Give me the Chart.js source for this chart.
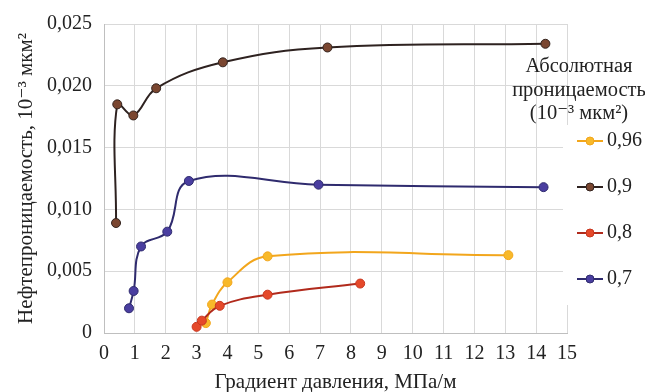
<!DOCTYPE html>
<html>
<head>
<meta charset="utf-8">
<script src="https://cdn.jsdelivr.net/npm/chart.js@4/dist/chart.umd.min.js"></script>
<style>
  html, body { margin: 0; padding: 0; background: #fff; }
  #wrap { width: 645px; height: 392px; position: relative; }
</style>
</head>
<body>
<div id="wrap"><canvas id="c" width="645" height="392"></canvas></div>
<script>
// ---- Data ----
const seriesLabels = ['0,96', '0,9', '0,8', '0,7'];

const gradient096 = [3.3, 3.5, 4.0, 5.3, 13.1];
const perm096     = [0.0008, 0.0023, 0.0041, 0.0062, 0.0063];

const gradient09  = [0.39, 0.43, 0.95, 1.69, 3.85, 7.24, 14.3];
const perm09      = [0.0089, 0.0185, 0.0176, 0.0198, 0.0219, 0.0231, 0.0234];

const gradient08  = [3.0, 3.17, 3.75, 5.3, 8.3];
const perm08      = [0.0005, 0.0010, 0.0022, 0.0031, 0.0040];

const gradient07  = [0.81, 0.96, 1.2, 2.05, 2.75, 6.95, 14.24];
const perm07      = [0.0020, 0.0034, 0.0070, 0.0082, 0.0123, 0.0120, 0.0118];

const xTickValues = [0,1,2,3,4,5,6,7,8,9,10,11,12,13,14,15];
const yTickValues = [0, 0.005, 0.010, 0.015, 0.020, 0.025];
const yTickLabels = ['0', '0,005', '0,010', '0,015', '0,020', '0,025'];

const xTitle = 'Градиент давления, МПа/м';
const yTitle = 'Нефтепроницаемость, 10⁻³ мкм²';
const legendTitle = ['Абсолютная', 'проницаемость', '(10⁻³ мкм²)'];

const styles = [
  { line: '#f2a61c', fill: '#f8b92a', border: '#f2a61c' },
  { line: '#2e2220', fill: '#7a4630', border: '#33231e' },
  { line: '#b12a1c', fill: '#e5492a', border: '#c8361f' },
  { line: '#2f2b6e', fill: '#4a3ea0', border: '#2f2b6e' }
];

function pts(xs, ys) { return xs.map((x, i) => ({ x: x, y: ys[i] })); }
const allX = [gradient096, gradient09, gradient08, gradient07];
const allY = [perm096, perm09, perm08, perm07];

const datasets = seriesLabels.map((lab, i) => ({
  label: lab,
  data: pts(allX[i], allY[i]),
  borderColor: styles[i].line,
  backgroundColor: styles[i].fill,
  pointBackgroundColor: styles[i].fill,
  pointBorderColor: styles[i].border,
  pointBorderWidth: 1,
  pointRadius: 4.5,
  borderWidth: 2,
  tension: 0.4,
  fill: false,
  order: i === 2 ? 0 : 1
}));

const SERIF = '"Liberation Serif", "DejaVu Serif", serif';

const legendPlugin = {
  id: 'customLegend',
  afterDraw(chart) {
    const ctx = chart.ctx;
    ctx.save();
    // white box behind legend items
    ctx.fillStyle = '#ffffff';
    ctx.fillRect(563, 125, 82, 180);
    // title
    ctx.fillStyle = '#222';
    ctx.font = '20.5px ' + SERIF;
    ctx.textAlign = 'center';
    ctx.textBaseline = 'middle';
    const ty = [67, 91, 114];
    legendTitle.forEach((t, i) => ctx.fillText(t, 579, ty[i]));
    // items
    const iy = [141, 187, 233, 279];
    seriesLabels.forEach((lab, i) => {
      const y = iy[i];
      ctx.strokeStyle = styles[i].line;
      ctx.lineWidth = 2;
      ctx.beginPath();
      ctx.moveTo(577, y);
      ctx.lineTo(603, y);
      ctx.stroke();
      ctx.beginPath();
      ctx.arc(590, y, 4, 0, Math.PI * 2);
      ctx.fillStyle = styles[i].fill;
      ctx.fill();
      ctx.lineWidth = 1;
      ctx.strokeStyle = styles[i].border;
      ctx.stroke();
      ctx.fillStyle = '#222';
      ctx.font = '20px ' + SERIF;
      ctx.textAlign = 'left';
      ctx.fillText(lab, 607, y);
    });
    ctx.restore();
  }
};

new Chart(document.getElementById('c'), {
  type: 'line',
  data: { datasets: datasets },
  options: {
    responsive: false,
    animation: false,
    events: [],
    layout: { padding: { left: 0, right: 78, top: 17, bottom: 0 } },
    plugins: { legend: { display: false }, tooltip: { enabled: false } },
    scales: {
      x: {
        type: 'linear',
        min: 0, max: 15,
        afterBuildTicks(scale) { scale.ticks = xTickValues.map(v => ({ value: v })); },
        afterFit(scale) { scale.height = 59; },
        grid: { color: '#d9d9d9', drawTicks: false, lineWidth: 1 },
        border: { color: '#bfbfbf', width: 1 },
        ticks: {
          padding: 9,
          color: '#222',
          font: { family: SERIF, size: 20 },
          maxRotation: 0,
          autoSkip: false,
          callback: (v) => String(v)
        },
        title: {
          display: true,
          text: xTitle,
          color: '#222',
          font: { family: SERIF, size: 21, lineHeight: 1 },
          padding: { top: 0, bottom: -1 }
        }
      },
      y: {
        type: 'linear',
        min: 0, max: 0.025,
        afterBuildTicks(scale) { scale.ticks = yTickValues.map(v => ({ value: v })); },
        afterFit(scale) { scale.width = 104; },
        grid: { color: '#d9d9d9', drawTicks: false, lineWidth: 1 },
        border: { color: '#bfbfbf', width: 1 },
        ticks: {
          padding: 12,
          color: '#222',
          font: { family: SERIF, size: 20 },
          autoSkip: false,
          callback: (v) => {
            const idx = yTickValues.findIndex(t => Math.abs(t - v) < 1e-9);
            return idx >= 0 ? yTickLabels[idx] : '';
          }
        },
        title: {
          display: true,
          text: yTitle,
          color: '#222',
          font: { family: SERIF, size: 21, lineHeight: 1 },
          padding: { top: 16, bottom: 0 }
        }
      }
    }
  },
  plugins: [legendPlugin]
});
</script>
</body>
</html>
